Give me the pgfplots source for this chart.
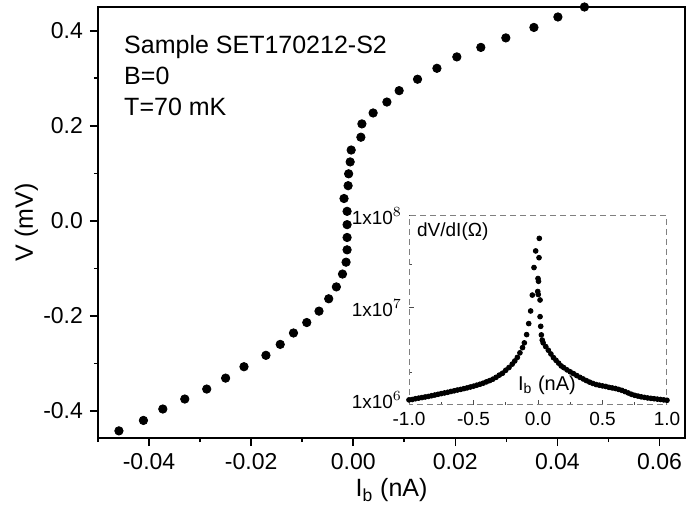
\documentclass[border=0pt]{standalone}
\usepackage{fontspec}
\setmainfont{Liberation Sans}
\usepackage{pgfplots}
\pgfplotsset{compat=1.18}

% main I-V curve
\pgfplotstableread{
x y
-0.0459 -0.442
-0.0411 -0.420
-0.0373 -0.396
-0.0330 -0.375
-0.0287 -0.354
-0.0250 -0.331
-0.0214 -0.307
-0.0171 -0.283
-0.0143 -0.260
-0.0117 -0.236
-0.0091 -0.214
-0.0067 -0.190
-0.0048 -0.164
-0.0033 -0.139
-0.0021 -0.112
-0.0014 -0.087
-0.0012 -0.061
-0.0012 -0.035
-0.0012 -0.008
-0.0012 0.020
-0.0018 0.047
-0.0010 0.074
-0.0009 0.099
-0.0006 0.124
-0.0004 0.149
0.0015 0.176
0.0017 0.204
0.0039 0.227
0.0066 0.250
0.0090 0.274
0.0126 0.298
0.0164 0.321
0.0203 0.345
0.0250 0.365
0.0299 0.385
0.0354 0.407
0.0401 0.429
0.0453 0.450
}\ivdata

% inset dV/dI
\pgfplotstableread{
x y
-1.000 1.00e6
-0.975 1.01e6
-0.950 1.03e6
-0.925 1.045e6
-0.900 1.06e6
-0.875 1.075e6
-0.850 1.09e6
-0.825 1.11e6
-0.800 1.13e6
-0.775 1.15e6
-0.750 1.17e6
-0.725 1.19e6
-0.700 1.21e6
-0.675 1.235e6
-0.650 1.255e6
-0.625 1.28e6
-0.600 1.30e6
-0.575 1.325e6
-0.550 1.35e6
-0.525 1.38e6
-0.500 1.41e6
-0.475 1.445e6
-0.450 1.48e6
-0.425 1.52e6
-0.400 1.57e6
-0.375 1.62e6
-0.350 1.68e6
-0.325 1.76e6
-0.300 1.86e6
-0.275 1.95e6
-0.250 2.10e6
-0.225 2.25e6
-0.200 2.45e6
-0.180 2.65e6
-0.160 2.90e6
-0.140 3.25e6
-0.120 3.70e6
-0.106 4.17e6
-0.088 5.13e6
-0.072 6.76e6
-0.057 9.27e6
-0.044 1.38e7
-0.031 2.75e7
-0.018 4.17e7
0.000 2.09e7
0.004 1.95e7
-0.002 1.51e7
0.002 1.40e7
0.010 5.71e7
0.008 3.52e7
0.016 1.22e7
0.016 8.04e6
0.021 6.31e6
0.026 5.09e6
0.033 4.47e6
0.040 4.17e6
0.060 3.80e6
0.080 3.47e6
0.100 3.16e6
0.120 2.88e6
0.140 2.69e6
0.160 2.51e6
0.180 2.34e6
0.200 2.24e6
0.225 2.12e6
0.250 2.02e6
0.275 1.93e6
0.300 1.84e6
0.325 1.76e6
0.350 1.69e6
0.375 1.62e6
0.400 1.56e6
0.425 1.51e6
0.450 1.47e6
0.475 1.445e6
0.500 1.42e6
0.525 1.40e6
0.550 1.37e6
0.575 1.35e6
0.600 1.33e6
0.625 1.30e6
0.650 1.27e6
0.675 1.23e6
0.700 1.19e6
0.725 1.15e6
0.750 1.12e6
0.775 1.10e6
0.800 1.08e6
0.825 1.065e6
0.850 1.05e6
0.875 1.04e6
0.900 1.03e6
0.925 1.02e6
0.950 1.01e6
0.975 1.00e6
1.000 0.99e6
}\dvdidata

\pgfplotsset{
  fmt/.style={/pgf/number format/fixed, /pgf/number format/fixed zerofill,
    /pgf/number format/precision=#1, /pgf/number format/assume math mode=true},
}

\begin{document}
\begin{tikzpicture}
\path[use as bounding box] (-49pt,-36pt) rectangle (299.5pt,219pt);

\begin{axis}[
    name=main,
    at={(0,0)}, anchor=south west,
    scale only axis,
    width=293.5pt, height=215.5pt,
    xmin=-0.05, xmax=0.065,
    ymin=-0.457, ymax=0.45,
    xtick={-0.04,-0.02,0,0.02,0.04,0.06},
    ytick={-0.4,-0.2,0,0.2,0.4},
    minor xtick={-0.05,-0.03,-0.01,0.01,0.03,0.05},
    minor ytick={-0.3,-0.1,0.1,0.3},
    xtick pos=bottom, ytick pos=left,
    tick align=outside,
    major tick length=4pt, minor tick length=2pt,
    every tick/.style={black, line width=0.8pt},
    axis line style={line width=1pt},
    axis background/.style={draw=black, line width=1.2pt},
    x tick label style={fmt=2},
    y tick label style={fmt=1},
    tick label style={font=\fontsize{11.5}{13}\selectfont},
    scaled ticks=false,
    xlabel={I$_\mathrm{b}$ (nA)},
    ylabel={V (mV)},
    label style={font=\fontsize{12.5}{14}\selectfont},
    xlabel style={at={(axis description cs:0.5,-0.121)}, anchor=center},
    ylabel style={at={(axis description cs:-0.122,0.5)}, anchor=center},
  ]
  \addplot[only marks, mark=*, mark size=2.1pt, black] table {\ivdata};
  \node[anchor=north west, align=left, font=\fontsize{12.5}{15.5}\selectfont, inner sep=0pt]
    at (rel axis cs:0.044,0.936) {Sample SET170212-S2\\B=0\\T=70 mK};
\end{axis}
% top and right frame lines
\draw[line width=1.2pt, black] (main.north west) -- (main.north east) -- (main.south east);

\begin{axis}[
    at={(155.5pt,16.5pt)}, anchor=south west,
    scale only axis,
    width=129pt, height=94.5pt,
    ymode=log,
    xmin=-1, xmax=1,
    ymin=8.8e5, ymax=1e8,
    xtick={-1,-0.5,0,0.5,1},
    minor xtick={-0.75,-0.25,0.25,0.75},
    ytick={1e6,1e7,1e8},
    yticklabels={1x10$^{6}$,1x10$^{7}$,1x10$^{8}$},
    minor ytick={2e6,3e7},
    xtick pos=bottom, ytick pos=left,
    tick align=inside,
    major tick length=2.5pt, minor tick length=1.5pt,
    every tick/.style={black!70, line width=0.5pt},
    axis line style={gray, densely dashed, line width=0.5pt},
    x tick label style={fmt=1},
    tick label style={font=\fontsize{9.5}{11}\selectfont},
  ]
  \addplot[only marks, mark=*, mark size=1.2pt, black] table {\dvdidata};
  \node[anchor=west, font=\fontsize{9.5}{11}\selectfont, inner sep=0pt]
    at (rel axis cs:0.03,0.915) {dV/dI(Ω)};
  \node[anchor=center, font=\fontsize{10}{11}\selectfont, inner sep=0pt]
    at (rel axis cs:0.535,0.105) {I$_\mathrm{b}$ (nA)};
\end{axis}
\end{tikzpicture}
\end{document}
